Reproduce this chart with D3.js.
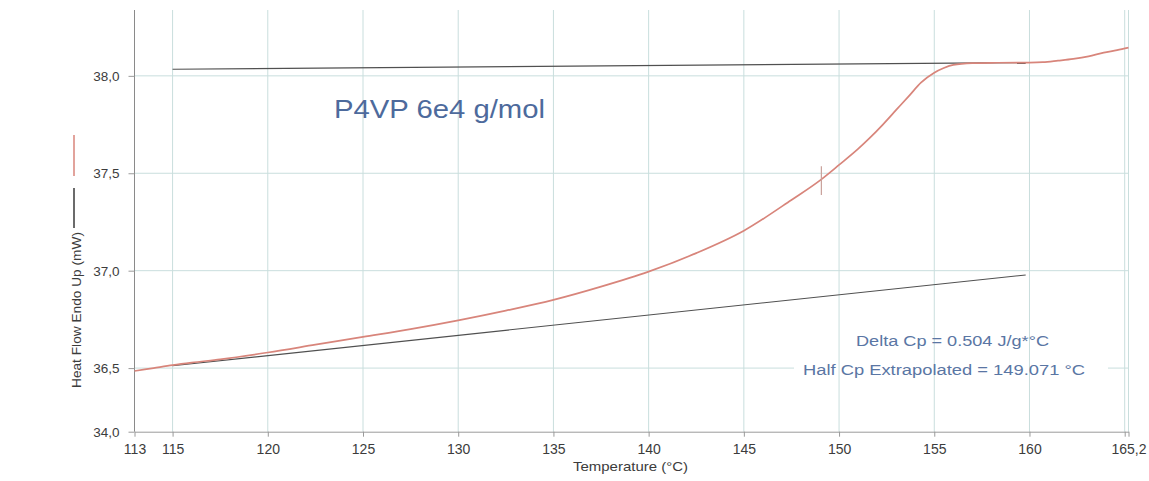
<!DOCTYPE html>
<html>
<head>
<meta charset="utf-8">
<script src="https://cdn.jsdelivr.net/npm/d3@7/dist/d3.min.js"></script>
<style>
  html, body { margin: 0; padding: 0; background: #ffffff; }
  svg { display: block; font-family: "Liberation Sans", Arial, sans-serif; }
</style>
</head>
<body>
<svg id="chart" width="1149" height="481"></svg>
<script>
// DSC heating trace of P4VP (glass transition region)
const sampleTemp = [113, 114, 115, 116, 117.5, 120, 122.5, 125, 127.5, 130, 132.5, 135, 137.5, 140,
  142.5, 145, 147.5, 149.07, 150, 151, 151.6, 152.3, 153, 153.7, 154.3, 155, 155.5, 156, 157,
  158, 160, 160.7, 161.5, 162.3, 163.1, 163.9, 164.6, 165.2];
const sampleHeatFlow = [36.485, 36.50, 36.515, 36.528, 36.545, 36.58, 36.62, 36.66, 36.70, 36.745,
  36.795, 36.85, 36.918, 36.995, 37.09, 37.205, 37.363, 37.469, 37.543, 37.625, 37.68, 37.75, 37.825,
  37.90, 37.965, 38.016, 38.04, 38.056, 38.065, 38.067, 38.068, 38.07, 38.078, 38.087, 38.10, 38.119,
  38.132, 38.145];

// Extrapolated baselines (onset and end) used for the Cp step
const upperBaseTemp = [115, 159.8];
const upperBaseHeatFlow = [38.034, 38.068];
const lowerBaseTemp = [115, 159.8];
const lowerBaseHeatFlow = [36.512, 36.978];

// Half-Cp marker
const halfCpTemp = 149.071;
const halfCpHeatFlow = 37.469;

// Axes
const xTickValues = [113, 115, 120, 125, 130, 135, 140, 145, 150, 155, 160, 165, 165.2];
const xTickLabels = ["113", "115", "120", "125", "130", "135", "140", "145", "150", "155", "160", "", "165,2"];
const xGridValues = [115, 120, 125, 130, 135, 140, 145, 150, 155, 160, 165, 165.2];
const yTickValues = [36.1735, 36.5, 37.0, 37.5, 38.0];
const yTickLabels = ["34,0", "36,5", "37,0", "37,5", "38,0"];
const yGridValues = [36.5, 37.0, 37.5, 38.0];

const title = "P4VP 6e4 g/mol";
const noteLines = ["Delta Cp = 0.504 J/g*°C", "Half Cp Extrapolated = 149.071 °C"];
const xTitle = "Temperature (°C)";
const yTitle = "Heat Flow Endo Up (mW)";

const svg = d3.select("#chart");
const plotLeft = 134.5, plotRight = 1128.5, plotTop = 10, plotBottom = 431.7;

const x = d3.scaleLinear().domain([113, 165.2]).range([plotLeft, plotRight]);
const y = d3.scaleLinear().domain([36.1735, 38.338]).range([plotBottom, plotTop]);

const gridColor = "#c9dedd";
const font = "'Liberation Sans', Arial, sans-serif";

// horizontal grid
svg.append("g").selectAll("line").data(yGridValues).join("line")
  .attr("x1", plotLeft).attr("x2", plotRight)
  .attr("y1", d => y(d)).attr("y2", d => y(d))
  .attr("stroke", gridColor).attr("stroke-width", 1);

// white panel behind the annotation (covers horizontal grid only)
svg.append("rect")
  .attr("x", 794).attr("y", 358).attr("width", 314).attr("height", 22)
  .attr("fill", "#ffffff");

// vertical grid
svg.append("g").selectAll("line").data(xGridValues).join("line")
  .attr("x1", d => x(d)).attr("x2", d => x(d))
  .attr("y1", plotTop).attr("y2", plotBottom)
  .attr("stroke", gridColor).attr("stroke-width", 1);

// x axis
const xAxis = d3.axisBottom(x)
  .tickValues(xTickValues)
  .tickFormat((d, i) => xTickLabels[i])
  .tickSizeOuter(0).tickSizeInner(5).tickPadding(7);
const gx = svg.append("g").attr("transform", `translate(0,${plotBottom})`).call(xAxis);
gx.select(".domain").attr("stroke", "#9a9a9a");
gx.selectAll(".tick line").attr("stroke", "#9a9a9a");
gx.selectAll(".tick text").attr("fill", "#3c3c3c").style("font-size", "14px")
  .style("font-family", font);

// y axis
const yAxis = d3.axisLeft(y)
  .tickValues(yTickValues)
  .tickFormat((d, i) => yTickLabels[i])
  .tickSizeOuter(0).tickSizeInner(6).tickPadding(9);
const gy = svg.append("g").attr("transform", `translate(${plotLeft},0)`).call(yAxis);
gy.select(".domain").attr("stroke", "#8a8a8a").attr("d", `M0,${plotTop}V${plotBottom}`);
gy.selectAll(".tick line").attr("stroke", "#9a9a9a");
gy.selectAll(".tick text").attr("fill", "#3c3c3c").style("font-size", "13.5px")
  .style("font-family", font);

// baselines
const baseLine = d3.line().x(d => x(d[0])).y(d => y(d[1]));
svg.append("path")
  .attr("d", baseLine(upperBaseTemp.map((t, i) => [t, upperBaseHeatFlow[i]])))
  .attr("fill", "none").attr("stroke", "#505050").attr("stroke-width", 1.1);
svg.append("path")
  .attr("d", baseLine(lowerBaseTemp.map((t, i) => [t, lowerBaseHeatFlow[i]])))
  .attr("fill", "none").attr("stroke", "#505050").attr("stroke-width", 1.1);

// sample trace
const trace = d3.line().x(d => x(d[0])).y(d => y(d[1])).curve(d3.curveMonotoneX);
svg.append("path")
  .attr("d", trace(sampleTemp.map((t, i) => [t, sampleHeatFlow[i]])))
  .attr("fill", "none").attr("stroke", "#d8857b").attr("stroke-width", 1.7);

// half-Cp marker
svg.append("line")
  .attr("x1", x(halfCpTemp)).attr("x2", x(halfCpTemp))
  .attr("y1", y(halfCpHeatFlow + 0.067)).attr("y2", y(halfCpHeatFlow - 0.08))
  .attr("stroke", "#c9a09a").attr("stroke-width", 1.2);

// title
svg.append("text")
  .attr("x", 334).attr("y", 118)
  .attr("fill", "#4d6a9c").style("font-size", "25px")
  .attr("textLength", 211).attr("lengthAdjust", "spacingAndGlyphs")
  .text(title);

// annotation
svg.append("text").attr("x", 856).attr("y", 346)
  .attr("fill", "#5a76a4").style("font-size", "15.5px")
  .attr("textLength", 193).attr("lengthAdjust", "spacingAndGlyphs")
  .text(noteLines[0]);
svg.append("text").attr("x", 803).attr("y", 375)
  .attr("fill", "#5a76a4").style("font-size", "15.5px")
  .attr("textLength", 282).attr("lengthAdjust", "spacingAndGlyphs")
  .text(noteLines[1]);

// axis titles
svg.append("text").attr("x", 573).attr("y", 471)
  .attr("fill", "#3c3c3c").style("font-size", "13px")
  .attr("textLength", 115).attr("lengthAdjust", "spacingAndGlyphs")
  .text(xTitle);
svg.append("text")
  .attr("transform", "translate(81,388) rotate(-90)")
  .attr("fill", "#3c3c3c").style("font-size", "13px")
  .attr("textLength", 156).attr("lengthAdjust", "spacingAndGlyphs")
  .text(yTitle);

// series key on the y title
svg.append("line").attr("x1", 74).attr("x2", 74).attr("y1", 135).attr("y2", 176)
  .attr("stroke", "#d8857b").attr("stroke-width", 1.5);
svg.append("line").attr("x1", 74).attr("x2", 74).attr("y1", 188).attr("y2", 228)
  .attr("stroke", "#3a3a3a").attr("stroke-width", 1.5);
</script>
</body>
</html>
